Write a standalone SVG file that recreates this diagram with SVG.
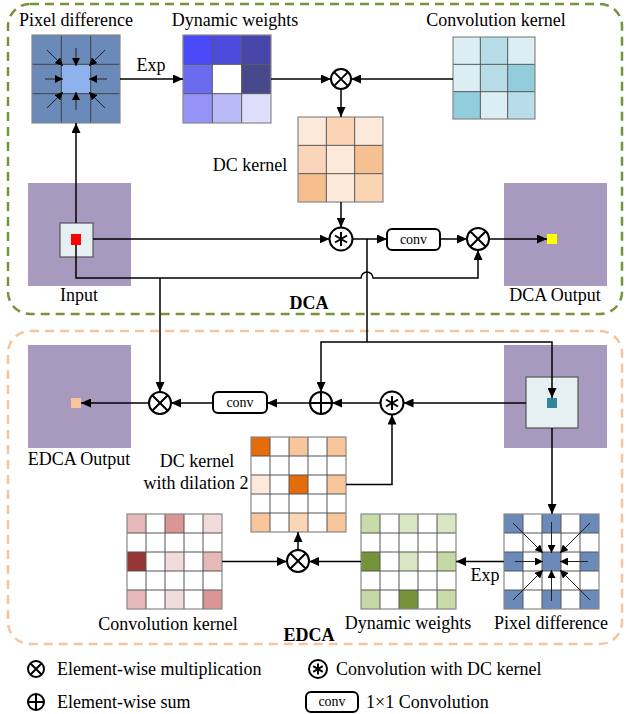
<svg xmlns="http://www.w3.org/2000/svg" width="626" height="714" viewBox="0 0 626 714" font-family="'Liberation Serif', 'Times New Roman', serif">
<defs>
<marker id="ah" markerUnits="userSpaceOnUse" markerWidth="10" markerHeight="9" refX="10" refY="4.5" orient="auto"><path d="M0,0 L10,4.5 L0,9 z" fill="#000"/></marker>
<marker id="ahs" markerUnits="userSpaceOnUse" markerWidth="8" markerHeight="8" refX="8" refY="4" orient="auto"><path d="M0,0 L8,4 L0,8 z" fill="#000"/></marker>
<style>
text{font-family:'Liberation Serif','Times New Roman',serif;fill:#000}
.t{font-size:18px}
.c{text-anchor:middle}
.b{font-weight:bold;font-size:18px}
.cv{font-size:14px;text-anchor:middle}
.ln{fill:none;stroke:#000;stroke-width:1.5}
.ar{marker-end:url(#ah)}
.pd{fill:none;stroke:#222;stroke-width:1;marker-end:url(#ahs)}
.g{stroke:#444;stroke-width:1}
.gl{fill:none;stroke:#555;stroke-width:1}
.ob{fill:none;stroke:#888;stroke-width:1.2}
.op{fill:none;stroke:#000;stroke-width:2}
.pur{fill:#a899bf}
.box{fill:#fff;stroke:#000;stroke-width:2}
</style>
</defs>

<!-- frames -->
<g id="dca-frame"><rect x="8" y="4" width="614" height="310" rx="22" fill="none" stroke="#77933c" stroke-width="2.5" stroke-dasharray="9,6"/></g>
<g id="edca-frame"><rect x="8" y="331" width="614" height="313" rx="22" fill="none" stroke="#f8c49e" stroke-width="2.5" stroke-dasharray="9,6"/></g>

<!-- DCA nodes -->
<g id="pixdiff-top">
<rect x="32" y="35" width="88" height="88" fill="#6a8aba"/>
<rect x="61.33" y="64.33" width="29.33" height="29.33" fill="#8db2ee"/>
<path class="g" d="M61.33,35V123M90.67,35V123M32,64.33H120M32,93.67H120" stroke="#2a3a55"/>
<rect x="32" y="35" width="88" height="88" class="ob"/>
<path class="pd" d="M47,50L63,66"/><path class="pd" d="M105,50L89,66"/>
<path class="pd" d="M47,108L63,92"/><path class="pd" d="M105,108L89,92"/>
<path class="pd" d="M45,79H63"/><path class="pd" d="M107,79H89"/>
<path class="pd" d="M76,48V66"/><path class="pd" d="M76,110V92"/>
<text class="t c" x="76" y="26">Pixel difference</text>
</g>

<g id="dynw-top">
<rect x="183" y="35" width="29.33" height="29.33" fill="#4949f8"/>
<rect x="212.33" y="35" width="29.33" height="29.33" fill="#4b4bdc"/>
<rect x="241.67" y="35" width="29.33" height="29.33" fill="#4747ab"/>
<rect x="183" y="64.33" width="29.33" height="29.33" fill="#6b6bf0"/>
<rect x="212.33" y="64.33" width="29.33" height="29.33" fill="#ffffff"/>
<rect x="241.67" y="64.33" width="29.33" height="29.33" fill="#48488c"/>
<rect x="183" y="93.67" width="29.33" height="29.33" fill="#9494f8"/>
<rect x="212.33" y="93.67" width="29.33" height="29.33" fill="#b9b9f8"/>
<rect x="241.67" y="93.67" width="29.33" height="29.33" fill="#dedefa"/>
<path class="gl" d="M212.33,35V123M241.67,35V123M183,64.33H271M183,93.67H271"/>
<rect x="183" y="35" width="88" height="88" class="ob"/>
<text class="t c" x="235" y="26">Dynamic weights</text>
</g>

<g id="convk-top">
<rect x="453" y="37" width="27.33" height="27.33" fill="#daeef3"/>
<rect x="480.33" y="37" width="27.33" height="27.33" fill="#b7dde8"/>
<rect x="507.67" y="37" width="27.33" height="27.33" fill="#daeef3"/>
<rect x="453" y="64.33" width="27.33" height="27.33" fill="#daeef3"/>
<rect x="480.33" y="64.33" width="27.33" height="27.33" fill="#b7dde8"/>
<rect x="507.67" y="64.33" width="27.33" height="27.33" fill="#92cddc"/>
<rect x="453" y="91.67" width="27.33" height="27.33" fill="#92cddc"/>
<rect x="480.33" y="91.67" width="27.33" height="27.33" fill="#daeef3"/>
<rect x="507.67" y="91.67" width="27.33" height="27.33" fill="#b7dde8"/>
<path class="gl" d="M480.33,37V119M507.67,37V119M453,64.33H535M453,91.67H535"/>
<rect x="453" y="37" width="82" height="82" class="ob"/>
<text class="t c" x="496" y="26">Convolution kernel</text>
</g>

<g id="mul-top"><circle cx="341" cy="79" r="10" class="op" fill="#fff"/><path class="op" d="M333.9,71.9L348.1,86.1M348.1,71.9L333.9,86.1"/></g>

<g id="dck-top">
<rect x="298" y="117" width="28.33" height="28.33" fill="#fde9d9"/>
<rect x="326.33" y="117" width="28.33" height="28.33" fill="#fbd4b4"/>
<rect x="354.67" y="117" width="28.33" height="28.33" fill="#fde9d9"/>
<rect x="298" y="145.33" width="28.33" height="28.33" fill="#fbd5b9"/>
<rect x="326.33" y="145.33" width="28.33" height="28.33" fill="#fde9d9"/>
<rect x="354.67" y="145.33" width="28.33" height="28.33" fill="#f7c090"/>
<rect x="298" y="173.67" width="28.33" height="28.33" fill="#f6be8c"/>
<rect x="326.33" y="173.67" width="28.33" height="28.33" fill="#fde9d9"/>
<rect x="354.67" y="173.67" width="28.33" height="28.33" fill="#fbd4b4"/>
<path class="gl" d="M326.33,117V202M354.67,117V202M298,145.33H383M298,173.67H383" stroke="#444"/>
<rect x="298" y="117" width="85" height="85" class="ob" stroke="#666"/>
<text class="t c" x="250" y="171">DC kernel</text>
</g>

<g id="input">
<rect x="28" y="183" width="103" height="103" class="pur"/>
<rect x="60" y="223" width="33" height="34" fill="#e6f0f2" stroke="#555" stroke-width="1.2"/>
<rect x="71" y="234" width="10" height="11" fill="#ff0000"/>
<text class="t c" x="79" y="301">Input</text>
</g>

<g id="dcconv-top"><circle cx="341" cy="239" r="11.5" class="op" fill="#fff"/><path class="op" d="M341,232V246M335,235.5L347,242.5M347,235.5L335,242.5"/></g>
<g id="conv-top"><rect x="387" y="229" width="53" height="21" rx="5" class="box"/><text class="cv" x="413.5" y="244">conv</text></g>
<g id="mul-dca"><circle cx="478" cy="239" r="11" class="op" fill="#fff"/><path class="op" d="M470.2,231.2L485.8,246.8M485.8,231.2L470.2,246.8"/></g>

<g id="dca-output">
<rect x="504" y="183" width="103" height="103" class="pur"/>
<rect x="547" y="234" width="10" height="10" fill="#ffff00"/>
<text class="t c" x="555" y="301">DCA Output</text>
</g>
<text class="b c" x="309" y="309">DCA</text>

<!-- EDCA nodes -->
<g id="edca-output">
<rect x="28" y="345" width="103" height="103" class="pur"/>
<rect x="71" y="398" width="10" height="10" fill="#f8c49a"/>
<text class="t c" x="79" y="465">EDCA Output</text>
</g>
<g id="mul-edca"><circle cx="160" cy="403" r="11" class="op" fill="#fff"/><path class="op" d="M152.2,395.2L167.8,410.8M167.8,395.2L152.2,410.8"/></g>
<g id="conv-edca"><rect x="213" y="392" width="54" height="21" rx="5" class="box"/><text class="cv" x="240" y="407">conv</text></g>
<g id="sum-edca"><circle cx="321" cy="403" r="11" class="op" fill="#fff"/><path class="op" d="M321,392V414M310,403H332"/></g>
<g id="dcconv-edca"><circle cx="392" cy="403" r="11.5" class="op" fill="#fff"/><path class="op" d="M392,396V410M386,399.5L398,406.5M398,399.5L386,406.5"/></g>

<g id="edca-input">
<rect x="504" y="345" width="103" height="103" class="pur"/>
<rect x="526" y="377" width="52" height="51" fill="#e6f0f2" stroke="#555" stroke-width="1.2"/>
<rect x="547" y="398" width="10" height="10" fill="#31859c"/>
</g>

<g id="dck-dil">
<rect x="251" y="437" width="95" height="95" fill="#fff"/>
<rect x="251" y="437" width="19" height="19" fill="#e46c0a"/>
<rect x="289" y="437" width="19" height="19" fill="#f9c69c"/>
<rect x="327" y="437" width="19" height="19" fill="#f9c69c"/>
<rect x="251" y="475" width="19" height="19" fill="#fde9d9"/>
<rect x="289" y="475" width="19" height="19" fill="#e46c0a"/>
<rect x="327" y="475" width="19" height="19" fill="#f9c69c"/>
<rect x="251" y="513" width="19" height="19" fill="#f9c69c"/>
<rect x="289" y="513" width="19" height="19" fill="#fbd5b5"/>
<rect x="327" y="513" width="19" height="19" fill="#f9c69c"/>
<path class="gl" d="M270,437V532M289,437V532M308,437V532M327,437V532M251,456H346M251,475H346M251,494H346M251,513H346" stroke="#444"/>
<rect x="251" y="437" width="95" height="95" class="ob"/>
<text class="t c" x="197" y="467">DC kernel</text>
<text class="t c" x="196" y="489">with dilation 2</text>
</g>

<g id="convk-edca">
<rect x="127" y="514" width="95" height="95" fill="#fff"/>
<rect x="127" y="514" width="19" height="19" fill="#e6b9b8"/>
<rect x="165" y="514" width="19" height="19" fill="#d99694"/>
<rect x="203" y="514" width="19" height="19" fill="#f2dcdb"/>
<rect x="127" y="552" width="19" height="19" fill="#953735"/>
<rect x="165" y="552" width="19" height="19" fill="#f2dcdb"/>
<rect x="203" y="552" width="19" height="19" fill="#e6b9b8"/>
<rect x="127" y="590" width="19" height="19" fill="#e6b9b8"/>
<rect x="165" y="590" width="19" height="19" fill="#f2dcdb"/>
<rect x="203" y="590" width="19" height="19" fill="#d99694"/>
<path class="gl" d="M146,514V609M165,514V609M184,514V609M203,514V609M127,533H222M127,552H222M127,571H222M127,590H222" stroke="#444"/>
<rect x="127" y="514" width="95" height="95" class="ob"/>
<text class="t c" x="168" y="630">Convolution kernel</text>
</g>

<g id="mul-edca2"><circle cx="298" cy="561" r="11" class="op" fill="#fff"/><path class="op" d="M290.2,553.2L305.8,568.8M305.8,553.2L290.2,568.8"/></g>

<g id="dynw-edca">
<rect x="361" y="514" width="95" height="95" fill="#fff"/>
<rect x="361" y="514" width="19" height="19" fill="#c8dcaa"/>
<rect x="399" y="514" width="19" height="19" fill="#d8e6c4"/>
<rect x="437" y="514" width="19" height="19" fill="#d8e6c4"/>
<rect x="361" y="552" width="19" height="19" fill="#76933c"/>
<rect x="399" y="552" width="19" height="19" fill="#d8e6c4"/>
<rect x="437" y="552" width="19" height="19" fill="#c4d8a4"/>
<rect x="361" y="590" width="19" height="19" fill="#c4d8a4"/>
<rect x="399" y="590" width="19" height="19" fill="#76933c"/>
<rect x="437" y="590" width="19" height="19" fill="#c8dcaa"/>
<path class="gl" d="M380,514V609M399,514V609M418,514V609M437,514V609M361,533H456M361,552H456M361,571H456M361,590H456" stroke="#444"/>
<rect x="361" y="514" width="95" height="95" class="ob"/>
<text class="t c" x="408" y="629">Dynamic weights</text>
</g>

<g id="pixdiff-edca">
<rect x="504" y="514" width="95" height="95" fill="#fff"/>
<rect x="504" y="514" width="19" height="19" fill="#6a8aba"/>
<rect x="542" y="514" width="19" height="19" fill="#6a8aba"/>
<rect x="580" y="514" width="19" height="19" fill="#6a8aba"/>
<rect x="504" y="552" width="19" height="19" fill="#6a8aba"/>
<rect x="542" y="552" width="19" height="19" fill="#6a8aba"/>
<rect x="580" y="552" width="19" height="19" fill="#6a8aba"/>
<rect x="504" y="590" width="19" height="19" fill="#6a8aba"/>
<rect x="542" y="590" width="19" height="19" fill="#6a8aba"/>
<rect x="580" y="590" width="19" height="19" fill="#6a8aba"/>
<path class="gl" d="M523,514V609M542,514V609M561,514V609M580,514V609M504,533H599M504,552H599M504,571H599M504,590H599" stroke="#444"/>
<rect x="504" y="514" width="95" height="95" class="ob"/>
<path class="pd" d="M513,523L543,553"/><path class="pd" d="M590,523L560,553"/>
<path class="pd" d="M513,600L543,570"/><path class="pd" d="M590,600L560,570"/>
<path class="pd" d="M515,561.5H543"/><path class="pd" d="M588,561.5H560"/>
<path class="pd" d="M551.5,522V553"/><path class="pd" d="M551.5,601V570"/>
<text class="t c" x="551" y="629">Pixel difference</text>
</g>
<text class="b c" x="309" y="641">EDCA</text>

<!-- connectors -->
<g id="connectors">
<path class="ln ar" d="M76,223V123"/>
<path class="ln ar" d="M120,79H183"/>
<text class="t c" x="151" y="71">Exp</text>
<path class="ln ar" d="M271,79H331"/>
<path class="ln ar" d="M453,79H351"/>
<path class="ln ar" d="M341,89V117"/>
<path class="ln ar" d="M341,202V227.5"/>
<path class="ln ar" d="M93,239H329.5"/>
<path class="ln ar" d="M352.5,239H387"/>
<path class="ln ar" d="M440,239H467"/>
<path class="ln ar" d="M489,239H547"/>
<path class="ln ar" d="M76,245V278H361A6,6 0 0 1 373,278H478V250"/>
<path class="ln ar" d="M160,278V392"/>
<path class="ln" d="M367,239V342"/>
<path class="ln ar" d="M367,342H321V392"/>
<path class="ln ar" d="M367,342H552V398"/>
<path class="ln ar" d="M526,403H403.5"/>
<path class="ln ar" d="M380.5,403H332"/>
<path class="ln ar" d="M310,403H267"/>
<path class="ln ar" d="M213,403H171"/>
<path class="ln ar" d="M149,403H81"/>
<path class="ln ar" d="M346,484.5H392V414.5"/>
<path class="ln ar" d="M552,428V514"/>
<path class="ln ar" d="M504,561.5H456"/>
<text class="t c" x="485" y="581">Exp</text>
<path class="ln ar" d="M361,561.5H309"/>
<path class="ln ar" d="M222,561.5H287"/>
<path class="ln ar" d="M298,550V532"/>
</g>

<!-- legend -->
<g id="legend">
<circle cx="36" cy="669" r="8" class="op" fill="#fff"/><path class="op" d="M30.3,663.3L41.7,674.7M41.7,663.3L30.3,674.7"/>
<text class="t" x="57" y="675">Element-wise multiplication</text>
<circle cx="36" cy="702" r="8" class="op" fill="#fff"/><path class="op" d="M36,694V710M28,702H44"/>
<text class="t" x="57" y="708">Element-wise sum</text>
<circle cx="318" cy="669" r="9" class="op" fill="#fff"/><path class="op" d="M318,663.5V674.5M313.2,666.2L322.8,671.8M322.8,666.2L313.2,671.8"/>
<text class="t" x="336" y="675">Convolution with DC kernel</text>
<rect x="306" y="692" width="52" height="20" rx="5" class="box"/><text class="cv" x="332" y="706">conv</text>
<text class="t" x="366" y="708">1×1 Convolution</text>
</g>
</svg>
